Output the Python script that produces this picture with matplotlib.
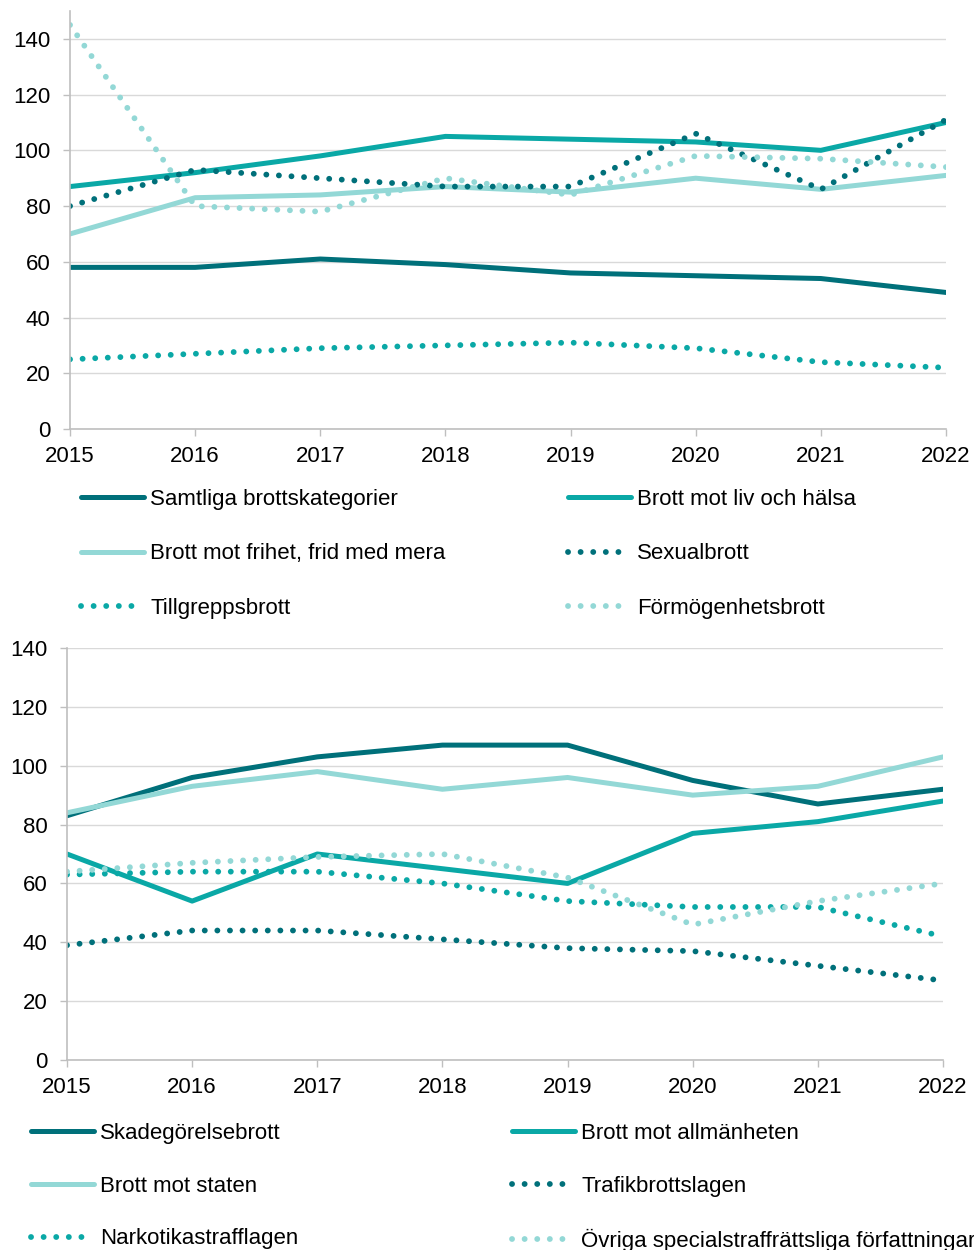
import matplotlib
matplotlib.use('Agg')
import matplotlib.pyplot as plt

plt.rcParams['font.family'] = ['Liberation Sans', 'DejaVu Sans']

years = [2015, 2016, 2017, 2018, 2019, 2020, 2021, 2022]

# top chart
samtliga = [58, 58, 61, 59, 56, 55, 54, 49]
liv_halsa = [87, 92, 98, 105, 104, 103, 100, 110]
frihet_frid = [70, 83, 84, 87, 85, 90, 86, 91]
sexualbrott = [80, 93, 90, 87, 87, 106, 86, 111]
tillgrepp = [25, 27, 29, 30, 31, 29, 24, 22]
formogenhet = [145, 80, 78, 90, 84, 98, 97, 94]

# bottom chart
skadegorelse = [83, 96, 103, 107, 107, 95, 87, 92]
allmanheten = [70, 54, 70, 65, 60, 77, 81, 88]
staten = [84, 93, 98, 92, 96, 90, 93, 103]
trafik = [39, 44, 44, 41, 38, 37, 32, 27]
narkotika = [63, 64, 64, 60, 54, 52, 52, 42]
ovriga = [64, 67, 69, 70, 62, 46, 54, 60]

top_series = [
    ('Samtliga brottskategorier', samtliga, 'dark', 'solid'),
    ('Brott mot liv och hälsa', liv_halsa, 'mid', 'solid'),
    ('Brott mot frihet, frid med mera', frihet_frid, 'light', 'solid'),
    ('Sexualbrott', sexualbrott, 'dark', 'dot'),
    ('Tillgreppsbrott', tillgrepp, 'mid', 'dot'),
    ('Förmögenhetsbrott', formogenhet, 'light', 'dot'),
]
bottom_series = [
    ('Skadegörelsebrott', skadegorelse, 'dark', 'solid'),
    ('Brott mot allmänheten', allmanheten, 'mid', 'solid'),
    ('Brott mot staten', staten, 'light', 'solid'),
    ('Trafikbrottslagen', trafik, 'dark', 'dot'),
    ('Narkotikastrafflagen', narkotika, 'mid', 'dot'),
    ('Övriga specialstraffrättsliga författningar', ovriga, 'light', 'dot'),
]

colors = {'dark': '#00707A', 'mid': '#0AA8A6', 'light': '#93D8D6'}
FS = 16
# legend is filled row by row in the reference
row_order = [0, 2, 4, 1, 3, 5]


def draw(ax, series, ymax):
    for label, vals, col, style in series:
        if style == 'solid':
            ax.plot(years, vals, color=colors[col], lw=3.6, label=label,
                    solid_capstyle='round', solid_joinstyle='round')
        else:
            ax.plot(years, vals, color=colors[col], lw=4.2, label=label,
                    linestyle=(0, (0.01, 2.15)), dash_capstyle='round')
    ax.set_xlim(2015, 2022)
    ax.set_ylim(0, ymax)
    ax.set_xticks(years)
    ax.set_yticks(range(0, 141, 20))
    ax.grid(axis='y', color='#D9D9D9', lw=1)
    ax.set_axisbelow(True)
    for s in ['top', 'right']:
        ax.spines[s].set_visible(False)
    for s in ['left', 'bottom']:
        ax.spines[s].set_color('#BFBFBF')
        ax.spines[s].set_linewidth(1.2)
    ax.tick_params(axis='both', colors='#BFBFBF', labelcolor='black',
                   labelsize=FS, length=5, width=1)
    ax.tick_params(axis='x', pad=7)
    ax.tick_params(axis='y', pad=9)


def add_legend(ax, x, y, colspace, labspace):
    h, l = ax.get_legend_handles_labels()
    h = [h[i] for i in row_order]
    l = [l[i] for i in row_order]
    fig.legend(h, l, loc='upper left', bbox_to_anchor=(x / 974, 1 - y / 1250),
               ncol=2, frameon=False, fontsize=FS, handlelength=2.84,
               handletextpad=0.28, columnspacing=colspace,
               labelspacing=labspace, borderaxespad=0)


fig = plt.figure(figsize=(9.74, 12.5), dpi=100)

ax1 = fig.add_axes([70 / 974, 1 - 429 / 1250, (946 - 70) / 974, (429 - 11) / 1250])
draw(ax1, top_series, 150)
add_legend(ax1, 72, 480, 5.5, 1.51)

ax2 = fig.add_axes([67 / 974, 1 - 1060 / 1250, (943 - 67) / 974, (1060 - 648) / 1250])
draw(ax2, bottom_series, 140)
add_legend(ax2, 22, 1114, 9.6, 1.43)

fig.savefig('out.png', dpi=100)
